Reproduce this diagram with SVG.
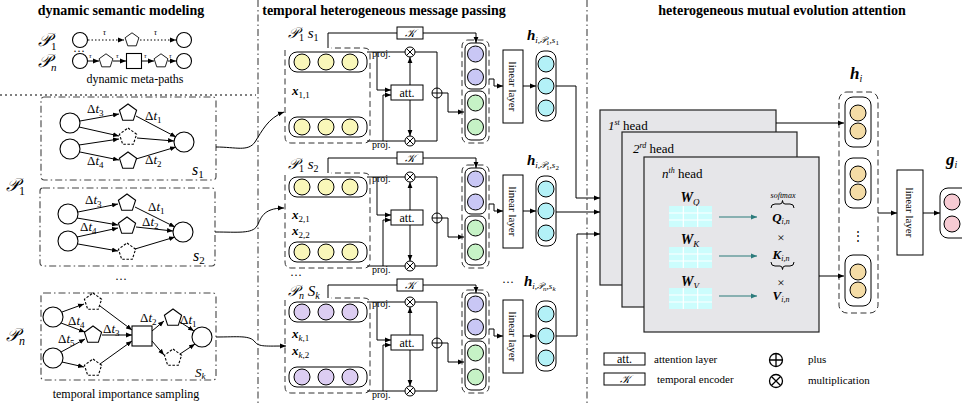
<svg xmlns="http://www.w3.org/2000/svg" width="962" height="405" viewBox="0 0 962 405">
<style>
text{font-family:"Liberation Serif","DejaVu Serif",serif;fill:#000}
.ttl{font-size:14px;font-weight:bold;text-anchor:middle}
.cap{font-size:12px;text-anchor:middle}
.dt{font-size:13px}
.pl{font-size:18px;font-style:italic}
.sm{font-size:10px}
.ln{fill:none;stroke:#000;stroke-width:1}
.nd{fill:#fff;stroke:#000;stroke-width:1.1}
.dn{fill:#fff;stroke:#000;stroke-width:1.1;stroke-dasharray:2.5,1.6}
.dd{fill:none;stroke:#444;stroke-width:1.1;stroke-dasharray:7,3,1.5,3}
.ds{fill:none;stroke:#333;stroke-width:1;stroke-dasharray:6,3.5}
.rw{fill:#fff;stroke:#000;stroke-width:1}
.bx{fill:#fff;stroke:#000;stroke-width:1}
.yc{fill:#f9f7b9;stroke:#000}
.lc{fill:#dccdf2;stroke:#000}
.pc{fill:#c9c7f5;stroke:#000}
.gc{fill:#c6f2c6;stroke:#000}
.cc{fill:#b3f1f7;stroke:#000}
.wc{fill:#f4dca6;stroke:#000}
.kc{fill:#f7cbd3;stroke:#000}
.hd{fill:#e6e6e9;stroke:#222;stroke-width:1.2}
.bi{font-weight:bold;font-style:italic}
.tl{fill:none;stroke:#2b7b7b;stroke-width:1.2}
</style>
<defs>
<marker id="ah" viewBox="0 0 10 10" refX="10" refY="5" markerWidth="6" markerHeight="6" markerUnits="userSpaceOnUse" orient="auto"><path d="M0,1L10,5L0,9z" fill="#000"/></marker>
<marker id="at" viewBox="0 0 10 10" refX="10" refY="5" markerWidth="6" markerHeight="6" markerUnits="userSpaceOnUse" orient="auto"><path d="M0,1L10,5L0,9z" fill="#2b7b7b"/></marker>
<polygon id="pg" points="0,-9 8.6,-2.8 5.3,7.3 -5.3,7.3 -8.6,-2.8"/>
<g id="ot"><circle r="5" fill="#fff" stroke="#000"/><path d="M-3.5,-3.5L3.5,3.5M3.5,-3.5L-3.5,3.5" stroke="#000"/></g>
<g id="op"><circle r="5" fill="#fff" stroke="#000"/><path d="M-5,0H5M0,-5V5" stroke="#000"/></g>
<g id="grid"><rect width="43" height="21" fill="#ccfdfd"/><path d="M14.3,0V21M28.7,0V21M0,7H43M0,14H43" stroke="#fff" stroke-width="1.2"/></g>
</defs>

<!-- section titles and dividers -->
<g id="titles">
<text class="ttl" x="121" y="15">dynamic semantic modeling</text>
<text class="ttl" x="384" y="15">temporal heterogeneous message passing</text>
<text class="ttl" x="782" y="15">heterogeneous mutual evolution attention</text>
</g>
<g id="dividers">
<path class="dd" d="M258,0V405M587,0V405"/>
<path d="M0,95H256" stroke="#000" stroke-dasharray="2,3" fill="none"/>
</g>

<!-- dynamic meta-paths -->
<g id="metapaths">
<text class="pl" x="38" y="46" font-size="17">𝒫<tspan font-size="11" font-style="normal" dy="4">1</tspan></text>
<text class="pl" x="38" y="67" font-size="17">𝒫<tspan font-size="11" dy="4">n</tspan></text>
<text x="73" y="55" font-size="12">···</text>
<circle class="nd" cx="80" cy="40" r="7.5"/>
<use href="#pg" class="nd" transform="translate(132,40) scale(0.8)"/>
<circle class="nd" cx="184" cy="40" r="7.5"/>
<circle class="nd" cx="80" cy="61" r="7.5"/>
<use href="#pg" class="nd" transform="translate(106,61) scale(0.8)"/>
<rect class="nd" x="126.5" y="53.5" width="15" height="15"/>
<use href="#pg" class="nd" transform="translate(161,61) scale(0.8)"/>
<circle class="nd" cx="184" cy="61" r="7.5"/>
<text x="103" y="35" font-size="8" font-style="italic">τ</text>
<text x="154" y="35" font-size="8" font-style="italic">τ</text>
<text x="89" y="58" font-size="7" font-style="italic">τ</text>
<text x="116" y="58" font-size="7" font-style="italic">τ</text>
<text x="144" y="58" font-size="7" font-style="italic">τ</text>
<text x="169" y="58" font-size="7" font-style="italic">τ</text>
<text class="cap" x="135" y="83">dynamic meta-paths</text>
</g>

<!-- sample s1 -->
<g id="sample-s1">
<rect class="dd" x="41" y="97" width="175" height="83" rx="3"/>
<circle class="nd" cx="70" cy="123" r="10"/>
<circle class="nd" cx="70" cy="149" r="10"/>
<use href="#pg" class="nd" x="128" y="113"/>
<use href="#pg" class="dn" x="128" y="137"/>
<use href="#pg" class="nd" x="128" y="161"/>
<circle class="nd" cx="184" cy="142" r="10"/>
<text class="dt" x="87" y="113">Δ<tspan font-style="italic">t</tspan><tspan font-size="9" dy="3">3</tspan></text>
<text class="dt" x="145" y="120">Δ<tspan font-style="italic">t</tspan><tspan font-size="9" dy="3">1</tspan></text>
<text class="dt" x="87" y="165">Δ<tspan font-style="italic">t</tspan><tspan font-size="9" dy="3">4</tspan></text>
<text class="dt" x="145" y="164">Δ<tspan font-style="italic">t</tspan><tspan font-size="9" dy="3">2</tspan></text>
<text x="192" y="175" font-size="16" font-style="italic">s<tspan font-size="11" font-style="normal" dy="3">1</tspan></text>
</g>
<text class="pl" x="6" y="191">𝒫<tspan font-size="12" font-style="normal" dy="4">1</tspan></text>

<!-- sample s2 -->
<g id="sample-s2">
<rect class="dd" x="40" y="188" width="175" height="78" rx="3"/>
<circle class="nd" cx="68" cy="214" r="10"/>
<circle class="nd" cx="68" cy="241" r="10"/>
<use href="#pg" class="nd" x="127" y="203"/>
<use href="#pg" class="nd" x="127" y="226"/>
<use href="#pg" class="dn" x="127" y="252"/>
<circle class="nd" cx="183" cy="232" r="10"/>
<text class="dt" x="85" y="204">Δ<tspan font-style="italic">t</tspan><tspan font-size="9" dy="3">3</tspan></text>
<text class="dt" x="148" y="211">Δ<tspan font-style="italic">t</tspan><tspan font-size="9" dy="3">1</tspan></text>
<text class="dt" x="80" y="231">Δ<tspan font-style="italic">t</tspan><tspan font-size="9" dy="3">4</tspan></text>
<text class="dt" x="142" y="226">Δ<tspan font-style="italic">t</tspan><tspan font-size="9" dy="3">2</tspan></text>
<text x="193" y="261" font-size="16" font-style="italic">s<tspan font-size="11" font-style="normal" dy="3">2</tspan></text>
</g>
<text x="115" y="283" font-size="12">···</text>

<!-- sample sk -->
<g id="sample-sk">
<rect class="dd" x="41" y="293" width="175" height="87" rx="3"/>
<circle class="nd" cx="53" cy="317" r="10"/>
<circle class="nd" cx="53" cy="358" r="10"/>
<use href="#pg" class="dn" x="93" y="302"/>
<use href="#pg" class="nd" x="93" y="335"/>
<use href="#pg" class="dn" x="93" y="368"/>
<rect class="nd" x="132" y="326" width="20" height="20"/>
<use href="#pg" class="nd" x="173" y="318"/>
<use href="#pg" class="dn" x="173" y="358"/>
<circle class="nd" cx="202" cy="337" r="10"/>
<text class="dt" x="68" y="325">Δ<tspan font-style="italic">t</tspan><tspan font-size="9" dy="3">4</tspan></text>
<text class="dt" x="58" y="343">Δ<tspan font-style="italic">t</tspan><tspan font-size="9" dy="3">5</tspan></text>
<text class="dt" x="103" y="333">Δ<tspan font-style="italic">t</tspan><tspan font-size="9" dy="3">3</tspan></text>
<text class="dt" x="140" y="322">Δ<tspan font-style="italic">t</tspan><tspan font-size="9" dy="3">2</tspan></text>
<text class="dt" x="180" y="324">Δ<tspan font-style="italic">t</tspan><tspan font-size="9" dy="3">1</tspan></text>
<text x="195" y="377" font-size="13" font-style="italic">S<tspan font-size="9" dy="2">k</tspan></text>
<text class="cap" x="126" y="398">temporal importance sampling</text>
</g>
<text class="pl" x="6" y="341">𝒫<tspan font-size="12" dy="4">n</tspan></text>

<!-- message passing block 1 -->
<g id="block1">
<text x="288" y="38" font-size="15" font-style="italic">𝒫<tspan font-size="10" font-style="normal" dy="3">1</tspan><tspan dy="-3"> s</tspan><tspan font-size="10" font-style="normal" dy="3">1</tspan></text>
<path class="ds" d="M285,50V137Q285,143 291,143H364Q370,143 370,137V54Q370,48 364,48H331"/>
<rect class="rw" x="289" y="52" width="78" height="20" rx="8"/>
<circle class="yc" cx="302" cy="62" r="8"/><circle class="yc" cx="326" cy="62" r="8"/><circle class="yc" cx="350" cy="62" r="8"/>
<text x="292" y="95" font-size="13" class="bi">x<tspan font-size="9" font-weight="normal" font-style="normal" dy="3">1,1</tspan></text>
<rect class="rw" x="289" y="117" width="78" height="20" rx="8"/>
<circle class="yc" cx="302" cy="127" r="8"/><circle class="yc" cx="326" cy="127" r="8"/><circle class="yc" cx="350" cy="127" r="8"/>
<text class="sm" x="372" y="57">proj.</text>
<text class="sm" x="372" y="148">proj.</text>
<path class="ln" d="M367,52H405M415,52H437V88M367,141H405M415,141H437V98"/>
<path class="ln" marker-end="url(#ah)" d="M442,93H448V112H464"/>
<path class="ln" marker-end="url(#ah)" d="M410,85V57"/>
<path class="ln" marker-end="url(#ah)" d="M410,100V136"/>
<path class="ln" marker-end="url(#ah)" d="M377,52V90H391"/>
<path class="ln" marker-end="url(#ah)" d="M383,141V95H391"/>
<use href="#ot" x="410" y="52"/><use href="#ot" x="410" y="141"/><use href="#op" x="437" y="93"/>
<rect class="bx" x="391" y="85" width="32" height="15"/>
<text x="407" y="97" font-size="12" text-anchor="middle">att.</text>
<path class="ln" d="M328,48V33H397"/>
<rect class="bx" x="397" y="27" width="26" height="12"/>
<text x="410" y="37" font-size="11" font-style="italic" text-anchor="middle">𝒦</text>
<path class="ln" marker-end="url(#ah)" d="M423,33H476V43"/>
<rect class="ds" x="462" y="40" width="27" height="103" rx="6"/>
<rect class="rw" x="465" y="43" width="21" height="46" rx="6"/>
<circle class="pc" cx="475.5" cy="54" r="8"/><circle class="pc" cx="475.5" cy="77" r="8"/>
<rect class="rw" x="465" y="91" width="21" height="49" rx="6"/>
<circle class="gc" cx="475.5" cy="103" r="8"/><circle class="gc" cx="475.5" cy="127" r="8"/>
<path class="ln" marker-end="url(#ah)" d="M489,79H494V86H503"/>
<rect class="bx" x="503" y="50" width="20" height="73"/>
<text x="513" y="86.5" font-size="11" text-anchor="middle" transform="rotate(90 513 86.5)" dy="4">linear layer</text>
<path class="ln" marker-end="url(#ah)" d="M523,86H536"/>
<rect class="rw" x="536" y="51" width="20" height="70" rx="8"/>
<circle class="cc" cx="546" cy="64" r="8"/><circle class="cc" cx="546" cy="86" r="8"/><circle class="cc" cx="546" cy="108" r="8"/>
<text x="527" y="40" font-size="15" class="bi">h<tspan font-size="9" font-weight="normal" dy="3">i,𝒫</tspan><tspan font-size="7" font-style="normal" font-weight="normal" dy="2">1</tspan><tspan font-size="9" font-weight="normal" dy="-2">,s</tspan><tspan font-size="7" font-style="normal" font-weight="normal" dy="2">1</tspan></text>
</g>

<!-- message passing block 2 -->
<g id="block2" transform="translate(0,125)">
<text x="288" y="44" font-size="15" font-style="italic">𝒫<tspan font-size="10" font-style="normal" dy="3">1</tspan><tspan dy="-3"> s</tspan><tspan font-size="10" font-style="normal" dy="3">2</tspan></text>
<path class="ds" d="M285,50V137Q285,143 291,143H364Q370,143 370,137V54Q370,48 364,48H331"/>
<rect class="rw" x="289" y="52" width="78" height="20" rx="8"/>
<circle class="yc" cx="302" cy="62" r="8"/><circle class="yc" cx="326" cy="62" r="8"/><circle class="yc" cx="350" cy="62" r="8"/>
<text x="292" y="94" font-size="13" class="bi">x<tspan font-size="9" font-weight="normal" font-style="normal" dy="3">2,1</tspan></text>
<text x="292" y="110" font-size="13" class="bi">x<tspan font-size="9" font-weight="normal" font-style="normal" dy="3">2,2</tspan></text>
<rect class="rw" x="289" y="117" width="78" height="20" rx="8"/>
<circle class="yc" cx="302" cy="127" r="8"/><circle class="yc" cx="326" cy="127" r="8"/><circle class="yc" cx="350" cy="127" r="8"/>
<text class="sm" x="372" y="57">proj.</text>
<text class="sm" x="372" y="148">proj.</text>
<path class="ln" d="M367,52H405M415,52H437V88M367,141H405M415,141H437V98"/>
<path class="ln" marker-end="url(#ah)" d="M442,93H448V112H464"/>
<path class="ln" marker-end="url(#ah)" d="M410,85V57"/>
<path class="ln" marker-end="url(#ah)" d="M410,100V136"/>
<path class="ln" marker-end="url(#ah)" d="M377,52V90H391"/>
<path class="ln" marker-end="url(#ah)" d="M383,141V95H391"/>
<use href="#ot" x="410" y="52"/><use href="#ot" x="410" y="141"/><use href="#op" x="437" y="93"/>
<rect class="bx" x="391" y="85" width="32" height="15"/>
<text x="407" y="97" font-size="12" text-anchor="middle">att.</text>
<path class="ln" d="M328,48V33H397"/>
<rect class="bx" x="397" y="27" width="26" height="12"/>
<text x="410" y="37" font-size="11" font-style="italic" text-anchor="middle">𝒦</text>
<path class="ln" marker-end="url(#ah)" d="M423,33H476V43"/>
<rect class="ds" x="462" y="40" width="27" height="103" rx="6"/>
<rect class="rw" x="465" y="43" width="21" height="46" rx="6"/>
<circle class="pc" cx="475.5" cy="54" r="8"/><circle class="pc" cx="475.5" cy="77" r="8"/>
<rect class="rw" x="465" y="91" width="21" height="49" rx="6"/>
<circle class="gc" cx="475.5" cy="103" r="8"/><circle class="gc" cx="475.5" cy="127" r="8"/>
<path class="ln" marker-end="url(#ah)" d="M489,79H494V86H503"/>
<rect class="bx" x="503" y="50" width="20" height="73"/>
<text x="513" y="86.5" font-size="11" text-anchor="middle" transform="rotate(90 513 86.5)" dy="4">linear layer</text>
<path class="ln" marker-end="url(#ah)" d="M523,86H536"/>
<rect class="rw" x="536" y="51" width="20" height="70" rx="8"/>
<circle class="cc" cx="546" cy="64" r="8"/><circle class="cc" cx="546" cy="86" r="8"/><circle class="cc" cx="546" cy="108" r="8"/>
<text x="527" y="40" font-size="15" class="bi">h<tspan font-size="9" font-weight="normal" dy="3">i,𝒫</tspan><tspan font-size="7" font-style="normal" font-weight="normal" dy="2">1</tspan><tspan font-size="9" font-weight="normal" dy="-2">,s</tspan><tspan font-size="7" font-style="normal" font-weight="normal" dy="2">2</tspan></text>
</g>

<!-- message passing block 3 -->
<g id="block3" transform="translate(0,250)">
<text x="290" y="29" font-size="12">···</text>
<text x="288" y="46" font-size="15" font-style="italic">𝒫<tspan font-size="10" dy="3">n</tspan><tspan dy="-3">  S</tspan><tspan font-size="10" dy="3">k</tspan></text>
<path class="ds" d="M285,50V137Q285,143 291,143H364Q370,143 370,137V54Q370,48 364,48H331"/>
<rect class="rw" x="289" y="52" width="78" height="20" rx="8"/>
<circle class="lc" cx="302" cy="62" r="8"/><circle class="lc" cx="326" cy="62" r="8"/><circle class="lc" cx="350" cy="62" r="8"/>
<text x="292" y="88" font-size="13" class="bi">x<tspan font-size="9" font-weight="normal" dy="3">k</tspan><tspan font-size="9" font-weight="normal" font-style="normal">,1</tspan></text>
<text x="292" y="105" font-size="13" class="bi">x<tspan font-size="9" font-weight="normal" dy="3">k</tspan><tspan font-size="9" font-weight="normal" font-style="normal">,2</tspan></text>
<rect class="rw" x="289" y="117" width="78" height="20" rx="8"/>
<circle class="lc" cx="302" cy="127" r="8"/><circle class="lc" cx="326" cy="127" r="8"/><circle class="lc" cx="350" cy="127" r="8"/>
<text class="sm" x="372" y="57">proj.</text>
<text class="sm" x="372" y="148">proj.</text>
<path class="ln" d="M367,52H405M415,52H437V88M367,141H405M415,141H437V98"/>
<path class="ln" marker-end="url(#ah)" d="M442,93H448V112H464"/>
<path class="ln" marker-end="url(#ah)" d="M410,85V57"/>
<path class="ln" marker-end="url(#ah)" d="M410,100V136"/>
<path class="ln" marker-end="url(#ah)" d="M377,52V90H391"/>
<path class="ln" marker-end="url(#ah)" d="M383,141V95H391"/>
<use href="#ot" x="410" y="52"/><use href="#ot" x="410" y="141"/><use href="#op" x="437" y="93"/>
<rect class="bx" x="391" y="85" width="32" height="15"/>
<text x="407" y="97" font-size="12" text-anchor="middle">att.</text>
<path class="ln" d="M328,48V35H397"/>
<rect class="bx" x="397" y="29" width="26" height="12"/>
<text x="410" y="39" font-size="11" font-style="italic" text-anchor="middle">𝒦</text>
<path class="ln" marker-end="url(#ah)" d="M423,35H476V43"/>
<rect class="ds" x="462" y="40" width="27" height="103" rx="6"/>
<rect class="rw" x="465" y="43" width="21" height="46" rx="6"/>
<circle class="pc" cx="475.5" cy="54" r="8"/><circle class="pc" cx="475.5" cy="77" r="8"/>
<rect class="rw" x="465" y="91" width="21" height="49" rx="6"/>
<circle class="gc" cx="475.5" cy="103" r="8"/><circle class="gc" cx="475.5" cy="127" r="8"/>
<path class="ln" marker-end="url(#ah)" d="M489,79H494V86H503"/>
<rect class="bx" x="503" y="50" width="20" height="73"/>
<text x="513" y="86.5" font-size="11" text-anchor="middle" transform="rotate(90 513 86.5)" dy="4">linear layer</text>
<path class="ln" marker-end="url(#ah)" d="M523,86H536"/>
<rect class="rw" x="536" y="51" width="20" height="70" rx="8"/>
<circle class="cc" cx="546" cy="64" r="8"/><circle class="cc" cx="546" cy="86" r="8"/><circle class="cc" cx="546" cy="108" r="8"/>
<text x="502" y="36" font-size="12">··· </text>
<text x="524" y="36" font-size="15" class="bi">h<tspan font-size="9" font-weight="normal" dy="3">i,𝒫</tspan><tspan font-size="7" font-weight="normal" dy="2">n</tspan><tspan font-size="9" font-weight="normal" dy="-2">,s</tspan><tspan font-size="7" font-weight="normal" dy="2">k</tspan></text>
</g>

<!-- attention heads -->
<g id="head1">
<rect class="hd" x="600" y="110" width="176" height="175"/>
<text x="608" y="130" font-size="13"><tspan font-style="italic">1</tspan><tspan font-style="italic" font-size="8" dy="-5">st</tspan><tspan dy="5"> head</tspan></text>
</g>
<g id="head2">
<rect class="hd" x="622" y="132" width="175" height="175"/>
<text x="633" y="153" font-size="13"><tspan font-style="italic">2</tspan><tspan font-style="italic" font-size="8" dy="-5">rd</tspan><tspan dy="5"> head</tspan></text>
</g>
<g id="headn">
<rect class="hd" x="644" y="157" width="175" height="175"/>
<text x="662" y="178" font-size="13"><tspan font-style="italic">n</tspan><tspan font-style="italic" font-size="8" dy="-5">th</tspan><tspan dy="5"> head</tspan></text>
<text x="690" y="202" font-size="14" class="bi" text-anchor="middle">W<tspan font-size="9" font-weight="normal" dy="3">Q</tspan></text>
<use href="#grid" x="669" y="206"/>
<text x="690" y="244" font-size="14" class="bi" text-anchor="middle">W<tspan font-size="9" font-weight="normal" dy="3">K</tspan></text>
<use href="#grid" x="669" y="247"/>
<text x="690" y="286" font-size="14" class="bi" text-anchor="middle">W<tspan font-size="9" font-weight="normal" dy="3">V</tspan></text>
<use href="#grid" x="669" y="288"/>
<path class="tl" marker-end="url(#at)" d="M719,217H757"/>
<path class="tl" marker-end="url(#at)" d="M719,256H757"/>
<path class="tl" marker-end="url(#at)" d="M719,296H757"/>
<text x="783" y="198" font-size="8" font-style="italic" text-anchor="middle">softmax</text>
<path class="ln" d="M771,208Q771,204 775,204H780Q782.5,204 782.5,200.5Q782.5,204 785,204H790Q794,204 794,208"/>
<text x="781" y="222" font-size="13" class="bi" text-anchor="middle">Q<tspan font-size="8" font-weight="normal" dy="2">i,n</tspan></text>
<text x="781" y="242" font-size="13" text-anchor="middle">×</text>
<text x="781" y="259" font-size="13" class="bi" text-anchor="middle">K<tspan font-size="8" font-weight="normal" dy="2">i,n</tspan></text>
<path class="ln" d="M771,262Q771,266 775,266H780Q782.5,266 782.5,269.5Q782.5,266 785,266H790Q794,266 794,262"/>
<text x="781" y="287" font-size="13" text-anchor="middle">×</text>
<text x="781" y="300" font-size="13" class="bi" text-anchor="middle">V<tspan font-size="8" font-weight="normal" dy="2">i,n</tspan></text>
</g>

<!-- h_i -->
<g id="h-i">
<text x="850" y="79" font-size="17" class="bi">h<tspan font-size="10" font-weight="normal" dy="3">i</tspan></text>
<rect class="ds" x="839" y="92" width="39" height="221" rx="8"/>
<rect class="rw" x="845" y="97" width="26" height="50" rx="8"/>
<circle class="wc" cx="858" cy="113" r="8"/><circle class="wc" cx="858" cy="131" r="8"/>
<rect class="rw" x="845" y="158" width="26" height="50" rx="8"/>
<circle class="wc" cx="858" cy="174" r="8"/><circle class="wc" cx="858" cy="192" r="8"/>
<text x="858" y="240" font-size="12" text-anchor="middle">⋮</text>
<rect class="rw" x="845" y="255" width="26" height="51" rx="8"/>
<circle class="wc" cx="858" cy="272" r="8"/><circle class="wc" cx="858" cy="290" r="8"/>
</g>
<g id="linear-out">
<rect class="bx" x="897" y="170" width="26" height="85"/>
<text x="910" y="212.5" font-size="11" text-anchor="middle" transform="rotate(90 910 212.5)" dy="4">linear layer</text>
</g>
<g id="g-i">
<text x="946" y="165" font-size="17" class="bi">g<tspan font-size="10" font-weight="normal" dy="3">i</tspan></text>
<rect class="rw" x="940" y="188" width="30" height="50" rx="8"/>
<circle class="kc" cx="952" cy="202" r="8"/><circle class="kc" cx="952" cy="224" r="8"/>
</g>

<!-- legend -->
<g id="legend">
<rect class="bx" x="604" y="353" width="41" height="12"/>
<text x="624.5" y="363" font-size="12" text-anchor="middle">att.</text>
<text x="654" y="363" font-size="11">attention layer</text>
<rect class="bx" x="604" y="373" width="41" height="12"/>
<text x="624.5" y="383" font-size="11" font-style="italic" text-anchor="middle">𝒦</text>
<text x="657" y="383" font-size="11">temporal encoder</text>
<use href="#op" transform="translate(776,360) scale(1.3)"/>
<text x="808" y="363" font-size="11">plus</text>
<use href="#ot" transform="translate(776,381) scale(1.3)"/>
<text x="808" y="384" font-size="11">multiplication</text>
</g>

<!-- connectors -->
<g id="connectors" class="ln">
<g marker-end="url(#ah)" fill="none" stroke="#000">
<path d="M88,40H124" stroke-dasharray="1.5,2"/>
<path d="M140,40H176" stroke-dasharray="1.5,2"/>
<path d="M88,61H99"/><path d="M113,61H126"/><path d="M142,61H154"/><path d="M168,61H176"/>
<path d="M80,121L119,114"/><path d="M79,127L119,136"/><path d="M79,145L119,139"/><path d="M80,152L119,160"/>
<path d="M136,116L176,137"/><path d="M137,138L174,141"/><path d="M136,159L176,147"/>
<path d="M78,212L118,204"/><path d="M77,218L118,225"/><path d="M77,237L118,228"/><path d="M78,244L118,251"/>
<path d="M135,207L175,227"/><path d="M136,227L173,231"/><path d="M135,249L175,237"/>
<path d="M62,312L84,304"/><path d="M61,323L85,332"/><path d="M61,352L85,339"/><path d="M62,362L84,367"/>
<path d="M100,306L132,330"/><path d="M102,335L132,335"/><path d="M100,364L132,341"/>
<path d="M152,331L164,321"/><path d="M152,341L164,355"/>
<path d="M180,322L194,331"/><path d="M180,354L195,344"/>
<path d="M216,147C236,147 248,152 255,142C262,131 268,118 284,112"/>
<path d="M215,232C238,232 252,234 257,226C261,219 262,208 284,208"/>
<path d="M216,337C238,337 250,335 255,342C259,347 266,346 286,346"/>
<path d="M556,86H576V198H600"/>
<path d="M556,212H600"/>
<path d="M556,336H577V234H600"/>
<path d="M776,123H844"/>
<path d="M819,276H844"/>
<path d="M878,213H897"/>
<path d="M923,213H940"/>
</g>
</g>
</svg>
